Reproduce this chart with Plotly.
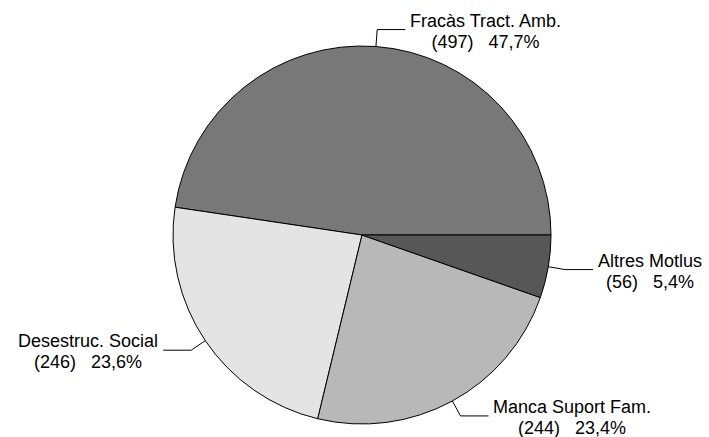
import math
import plotly.graph_objects as go

categories = ["Fracàs Tract. Amb.", "Desestruc. Social", "Manca Suport Fam.", "Altres Motlus"]
counts = [497, 246, 244, 56]
percent_labels = ["47,7%", "23,6%", "23,4%", "5,4%"]
colors = ["#787878", "#e4e4e4", "#b8b8b8", "#575757"]

W, H = 709, 437
ML, MR, MT, MB = 173, 158, 46, 13
PW = W - ML - MR  # 378
PH = H - MT - MB  # 378

total = sum(counts)
# counterclockwise pies in plotly place the END of the first slice at `rotation`;
# we want the first slice to START at 3 o'clock
rotation = 90 - 360 * counts[0] / total

fig = go.Figure(go.Pie(
    labels=categories,
    values=counts,
    sort=False,
    direction="counterclockwise",
    rotation=rotation,
    marker=dict(colors=colors, line=dict(color="black", width=1)),
    textinfo="none",
    hoverinfo="label+value+percent",
    showlegend=False,
))

radial_px = 17
horiz_px = 28
shapes = []
annotations = []
start = 0.0
for cat, v, pl in zip(categories, counts, percent_labels):
    frac = v / total
    mid = (start + frac / 2) * 2 * math.pi
    start += frac
    c, s = math.cos(mid), math.sin(mid)
    r = PW / 2
    x0, y0 = r * c, r * s
    x1, y1 = (r + radial_px) * c, (r + radial_px) * s
    side = 1 if c >= 0 else -1
    x2, y2 = x1 + side * horiz_px, y1
    to_px = lambda px: 0.5 + px / PW
    to_py = lambda py: 0.5 + py / PH
    shapes.append(dict(type="path", xref="paper", yref="paper",
                       path=f"M {to_px(x0)} {to_py(y0)} L {to_px(x1)} {to_py(y1)} L {to_px(x2)} {to_py(y2)}",
                       line=dict(color="black", width=1)))
    nb = "\u00a0" * 3
    sp = "<span style='font-size:18px'>{}</span>"
    annotations.append(dict(
        xref="paper", yref="paper", x=to_px(x2), y=to_py(y2),
        xanchor="left" if side > 0 else "right", yanchor="middle",
        xshift=3 * side, yshift=-1.5,
        text=sp.format(cat) + "<br>" + sp.format(f"({v}){nb}{pl}"),
        showarrow=False, align="center",
        font=dict(family="Liberation Sans, Arial, sans-serif", size=16, color="black"),
    ))

fig.update_layout(
    width=W, height=H,
    margin=dict(l=ML, r=MR, t=MT, b=MB),
    paper_bgcolor="white", plot_bgcolor="white",
    shapes=shapes, annotations=annotations,
)
fig.write_html("out.html", config={"displayModeBar": False},
               post_script="document.body.style.margin='0';")
